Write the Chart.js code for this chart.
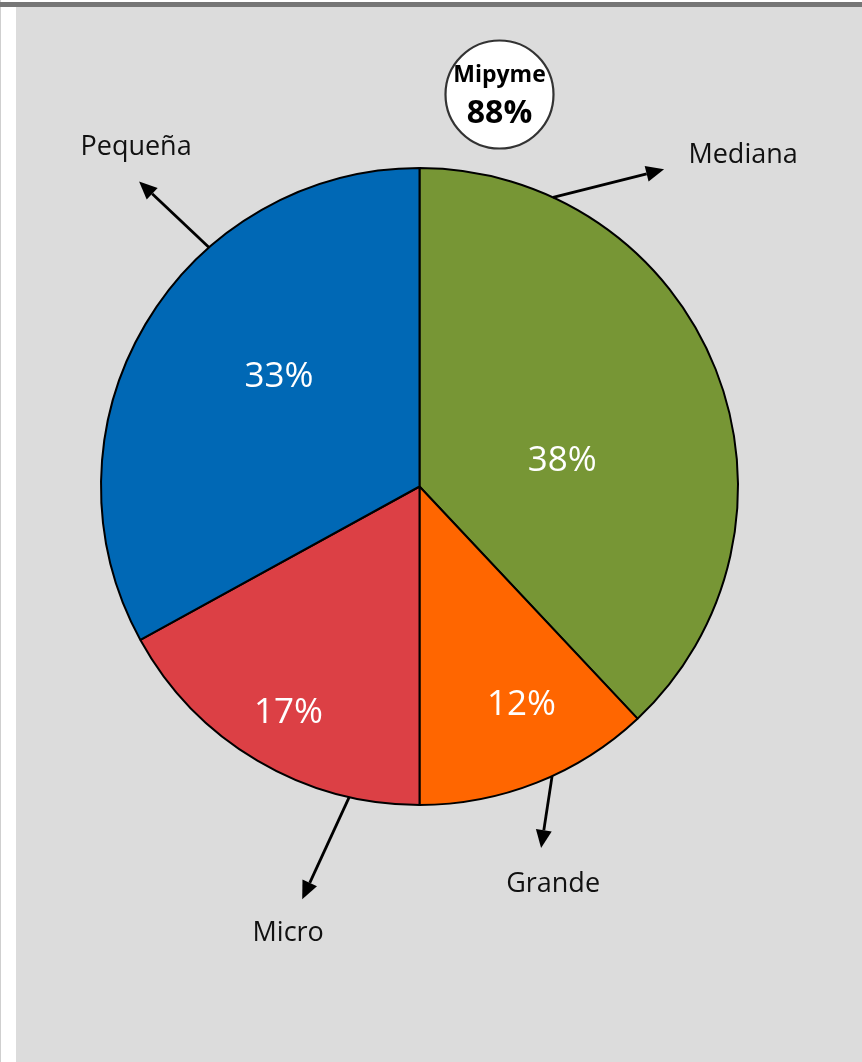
<!DOCTYPE html>
<html>
<head>
<meta charset="utf-8">
<script src="https://cdn.jsdelivr.net/npm/chart.js@4.4.1/dist/chart.umd.min.js"></script>
<style>
  html, body { margin: 0; padding: 0; background: #fff; }
  #wrap { position: relative; width: 862px; height: 1062px; overflow: hidden; }
  #edge { position: absolute; left: 0; top: 0; width: 1px; height: 1062px; background: #cfcfcf; }
  #topbar { position: absolute; left: 0; top: 2px; width: 862px; height: 5px; background: #767676; }
  #panel { position: absolute; left: 16px; top: 7px; width: 846px; height: 1055px; background: #dcdcdc; }
  #grafico { position: absolute; left: 0; top: 0; }
</style>
</head>
<body>
<div id="wrap">
  <div id="edge"></div>
  <div id="panel"></div>
  <div id="topbar"></div>
  <canvas id="grafico" width="862" height="1062"></canvas>
</div>
<script>
  // dados (sentido horário a partir do topo)
  const categorias = ["Mediana", "Grande", "Micro", "Pequeña"];
  const valores = [38, 12, 17, 33];
  const rotulos = ["38%", "12%", "17%", "33%"];
  const cores = ["#779635", "#FF6600", "#DC4045", "#0068B5"];
  const destaqueTitulo = "Mipyme";
  const destaqueValor = "88%";

  // posição dos rótulos internos: ângulo (graus, a partir do topo) e raio relativo
  const posRotulo = [[80, 0.455], [155, 0.757], [210, 0.823], [308, 0.56]];
  // setas: ângulo de saída na borda, vetor da seta, deslocamento do texto
  const setas = [
    { ang: 24.8, dx: 111, dy: -28, tx: 79, ty: -14 },
    { ang: 155.4, dx: -11, dy: 72, tx: 12, ty: 36 },
    { ang: 192.75, dx: -47, dy: 102, tx: -14, ty: 34 },
    { ang: 318.65, dx: -70, dy: -66, tx: -3, ty: -34 }
  ];

  const FONTE = "'Open Sans', 'Noto Sans', sans-serif";

  function seta(ctx, x0, y0, x1, y1) {
    const a = Math.atan2(y1 - y0, x1 - x0);
    const L = 18, W = 8;
    const bx = x1 - L * Math.cos(a), by = y1 - L * Math.sin(a);
    ctx.beginPath();
    ctx.moveTo(x0, y0);
    ctx.lineTo(bx, by);
    ctx.lineWidth = 2.8;
    ctx.strokeStyle = "#000";
    ctx.stroke();
    ctx.beginPath();
    ctx.moveTo(x1, y1);
    ctx.lineTo(bx + W * Math.sin(a), by - W * Math.cos(a));
    ctx.lineTo(bx - W * Math.sin(a), by + W * Math.cos(a));
    ctx.closePath();
    ctx.fillStyle = "#000";
    ctx.fill();
  }

  const anotacoes = {
    id: "anotacoes",
    afterDatasetsDraw(chart) {
      const ctx = chart.ctx;
      const arcs = chart.getDatasetMeta(0).data;
      if (!arcs.length) return;
      const cx = arcs[0].x, cy = arcs[0].y, r = arcs[0].outerRadius;
      const pt = (deg, rad) => {
        const t = deg * Math.PI / 180;
        return [cx + rad * Math.sin(t), cy - rad * Math.cos(t)];
      };

      ctx.save();
      ctx.textAlign = "center";
      ctx.textBaseline = "middle";

      // percentuais
      ctx.fillStyle = "#fff";
      ctx.font = "35px " + FONTE;
      rotulos.forEach((txt, i) => {
        const [x, y] = pt(posRotulo[i][0], posRotulo[i][1] * r);
        ctx.fillText(txt, x, y);
      });

      // setas e nomes
      ctx.font = "27px " + FONTE;
      categorias.forEach((nome, i) => {
        const s = setas[i];
        const [x0, y0] = pt(s.ang, r);
        const x1 = x0 + s.dx, y1 = y0 + s.dy;
        seta(ctx, x0, y0, x1, y1);
        ctx.fillStyle = "#111";
        ctx.fillText(nome, x1 + s.tx, y1 + s.ty);
      });

      // círculo Mipyme
      const [mx, my] = [cx + 80, cy - 392];
      ctx.beginPath();
      ctx.arc(mx, my, 54, 0, Math.PI * 2);
      ctx.fillStyle = "#fff";
      ctx.fill();
      ctx.lineWidth = 2.2;
      ctx.strokeStyle = "#333";
      ctx.stroke();
      ctx.fillStyle = "#000";
      ctx.font = "bold 23px " + FONTE;
      ctx.fillText(destaqueTitulo, mx, my - 19);
      ctx.font = "bold 32px " + FONTE;
      ctx.fillText(destaqueValor, mx, my + 19);
      ctx.restore();
    }
  };

  new Chart(document.getElementById("grafico"), {
    type: "pie",
    data: {
      labels: categorias,
      datasets: [{
        data: valores,
        backgroundColor: cores,
        borderColor: "#000",
        borderWidth: 2
      }]
    },
    options: {
      responsive: false,
      animation: false,
      layout: { padding: { top: 167, bottom: 256, left: 100, right: 123 } },
      plugins: { legend: { display: false }, tooltip: { enabled: false } }
    },
    plugins: [anotacoes]
  });
</script>
</body>
</html>
